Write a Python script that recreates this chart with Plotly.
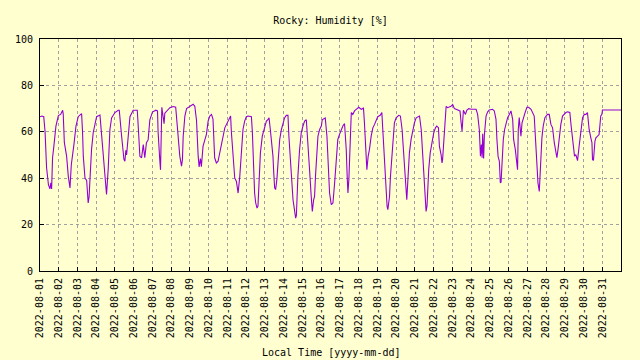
import pandas as pd
import plotly.graph_objects as go

start_date = "2022-08-01 00:00"

# elapsed days since 2022-08-01 00:00 (local time)
elapsed_days = [
    0.00, 0.10, 0.20, 0.27, 0.35, 0.45, 0.53, 0.58, 0.62, 0.67, 0.74, 0.85, 0.98,
    1.10, 1.21, 1.24, 1.30, 1.42, 1.51, 1.60, 1.67, 1.74, 1.81, 1.92,
    2.04, 2.17, 2.22, 2.27, 2.31, 2.40, 2.49, 2.57, 2.62, 2.66, 2.75, 2.84, 2.93,
    3.02, 3.20, 3.29, 3.37, 3.46, 3.52, 3.55, 3.64, 3.73, 3.82,
    4.00, 4.17, 4.23, 4.35, 4.44, 4.48, 4.53, 4.58, 4.62, 4.71, 4.80, 4.97,
    5.19, 5.24, 5.33, 5.42, 5.51, 5.59, 5.68, 5.77, 5.86,
    6.00, 6.18, 6.27, 6.30, 6.39, 6.43, 6.50, 6.62, 6.66, 6.75, 6.93,
    7.10, 7.24, 7.28, 7.37, 7.46, 7.55, 7.60, 7.64, 7.73, 7.82, 7.99,
    8.17, 8.26, 8.35, 8.44, 8.49, 8.56, 8.61, 8.70, 8.79, 8.88, 8.97,
    9.06, 9.15, 9.23, 9.32, 9.41, 9.50, 9.59, 9.68, 9.77, 9.86, 9.95,
    10.03, 10.12, 10.17, 10.21, 10.30, 10.39, 10.48, 10.57, 10.66, 10.75, 10.83, 10.92,
    11.01, 11.10, 11.28, 11.33, 11.40, 11.45, 11.51, 11.58, 11.63, 11.69, 11.76, 11.86, 11.99,
    12.08, 12.16, 12.22, 12.29, 12.34, 12.43, 12.47, 12.52, 12.57, 12.64, 12.70, 12.79, 12.88, 12.96,
    13.05, 13.14, 13.23, 13.28, 13.41, 13.50, 13.59, 13.64, 13.68, 13.71, 13.76, 13.85, 13.94,
    14.03, 14.12, 14.21, 14.29, 14.38, 14.47, 14.53, 14.60, 14.65, 14.70, 14.78, 14.83, 14.92,
    15.01, 15.06, 15.22, 15.31, 15.36, 15.45, 15.54, 15.63, 15.72, 15.81, 15.89, 15.98,
    16.07, 16.16, 16.25, 16.34, 16.39, 16.43, 16.48, 16.52, 16.55, 16.61, 16.69, 16.78, 16.87,
    17.01, 17.14, 17.26, 17.31, 17.37, 17.40, 17.44, 17.51, 17.58, 17.67, 17.76, 17.85, 17.94,
    18.02, 18.15, 18.24, 18.29, 18.38, 18.47, 18.52, 18.56, 18.65, 18.70, 18.79, 18.86, 18.91,
    19.00, 19.14, 19.23, 19.32, 19.39, 19.45, 19.50, 19.57, 19.62, 19.71, 19.80, 19.89, 19.98,
    20.07, 20.16, 20.25, 20.34, 20.42, 20.48, 20.55, 20.60, 20.65, 20.69, 20.74, 20.82, 20.92,
    21.01, 21.10, 21.17, 21.26, 21.31, 21.40, 21.45, 21.48, 21.54, 21.59, 21.67, 21.75, 21.84, 21.93,
    22.02, 22.11, 22.20, 22.29, 22.41, 22.47, 22.52, 22.59, 22.70, 22.77, 22.87,
    23.00, 23.27, 23.35, 23.44, 23.50, 23.55, 23.59, 23.62, 23.67, 23.71, 23.80, 23.88, 23.97,
    24.15, 24.24, 24.33, 24.38, 24.44, 24.51, 24.56, 24.60, 24.65, 24.72, 24.79, 24.86, 24.95,
    25.04, 25.13, 25.22, 25.27, 25.36, 25.45, 25.48, 25.52, 25.57, 25.61, 25.66, 25.72, 25.79, 25.89, 25.98,
    26.07, 26.20, 26.37, 26.43, 26.46, 26.52, 26.57, 26.64, 26.71, 26.78, 26.85, 26.94,
    27.08, 27.17, 27.26, 27.35, 27.44, 27.53, 27.58, 27.65, 27.70, 27.79, 27.88, 27.97,
    28.06, 28.15, 28.27, 28.34, 28.41, 28.47, 28.52, 28.59, 28.68, 28.77, 28.86, 28.95,
    29.04, 29.13, 29.21, 29.30, 29.39, 29.45, 29.48, 29.53, 29.61, 29.66, 29.75, 29.83, 29.92, 29.98,
    30.01, 31.00,
]

humidity = [
    66.5, 66.8, 66.5, 60.0, 44.6, 37.2, 35.4, 38.0, 35.4, 48.8, 53.8, 62.5, 67.0,
    67.5, 69.3, 67.5, 55.3, 49.5, 40.8, 35.8, 45.8, 51.6, 54.5, 62.5,
    66.5, 67.5, 67.8, 60.0, 49.5, 40.1, 39.0, 29.3, 32.0, 38.5, 52.4, 59.7, 64.0,
    66.5, 67.2, 57.3, 50.5, 42.9, 33.6, 33.0, 44.1, 61.0, 66.0,
    68.3, 69.3, 69.3, 58.5, 52.0, 48.0, 47.3, 52.0, 50.0, 60.0, 66.5, 69.3,
    69.3, 62.5, 49.5, 48.8, 54.5, 48.8, 55.3, 56.5, 65.2,
    68.5, 69.3, 69.0, 60.1, 48.0, 43.6, 70.6, 63.5, 68.0, 68.8, 70.4,
    70.9, 70.6, 66.8, 56.7, 49.5, 45.2, 48.0, 58.0, 66.8, 70.0, 71.0,
    71.9, 71.0, 65.0, 49.5, 44.9, 48.5, 45.0, 53.8, 56.0, 58.9, 64.6,
    66.8, 67.5, 65.5, 48.8, 46.6, 47.3, 50.9, 55.3, 58.9, 61.7, 63.2,
    64.5, 66.5, 66.8, 60.0, 49.5, 40.1, 38.6, 33.6, 40.8, 49.5, 61.0, 64.6,
    66.5, 66.8, 66.5, 60.0, 43.6, 33.6, 29.3, 27.1, 28.0, 40.8, 50.9, 58.1, 62.5,
    64.6, 65.2, 66.0, 60.9, 56.7, 49.5, 42.6, 35.8, 35.1, 39.5, 46.6, 56.7, 61.0, 63.9,
    66.0, 67.1, 67.1, 58.1, 40.8, 30.7, 25.7, 22.8, 24.0, 32.2, 40.8, 52.4, 59.6,
    62.5, 64.6, 65.2, 56.5, 44.0, 32.2, 25.7, 30.7, 32.2, 41.0, 49.5, 58.1, 61.0,
    62.5, 65.2, 66.0, 58.1, 46.6, 33.6, 28.6, 29.3, 37.9, 49.5, 56.7, 58.9,
    61.0, 62.5, 63.5, 52.4, 40.8, 33.6, 39.5, 49.5, 59.6, 68.3, 67.5, 69.0, 69.7,
    70.6, 69.7, 70.2, 64.0, 53.8, 46.6, 43.7, 49.5, 52.4, 58.1, 61.7, 63.2, 64.6,
    66.5, 67.1, 68.3, 61.0, 46.6, 35.1, 27.8, 26.4, 32.2, 40.8, 52.4, 59.6, 63.9,
    66.0, 67.1, 66.8, 61.0, 52.4, 45.2, 36.5, 30.7, 37.9, 50.9, 56.7, 61.0, 63.9,
    66.0, 66.5, 66.8, 61.0, 50.9, 40.8, 32.2, 25.7, 28.0, 36.5, 43.7, 50.9, 56.7,
    59.6, 61.7, 62.5, 61.8, 53.8, 50.2, 46.6, 48.0, 55.3, 66.1, 71.0, 70.4, 70.7, 71.0,
    71.8, 70.0, 69.7, 69.3, 69.0, 63.9, 60.3, 69.3, 67.5, 69.3, 70.0,
    69.7, 69.7, 67.5, 61.0, 49.5, 54.5, 48.8, 59.2, 48.5, 58.5, 66.8, 68.5, 69.4,
    69.7, 69.0, 65.4, 56.7, 49.5, 47.3, 38.0, 38.3, 49.5, 56.7, 61.0, 63.2, 66.1,
    67.5, 69.0, 65.4, 56.7, 52.4, 46.6, 43.7, 61.0, 66.1, 62.5, 58.1, 63.9, 66.1, 68.5, 70.6,
    70.6, 69.7, 66.8, 58.1, 53.1, 46.6, 38.0, 34.3, 46.6, 57.4, 62.5, 66.1,
    67.5, 67.5, 63.2, 61.7, 55.3, 50.9, 48.8, 53.1, 58.1, 63.2, 66.8, 67.8,
    68.3, 68.6, 68.3, 62.5, 58.1, 52.4, 49.5, 50.2, 47.6, 54.1, 61.0, 66.1,
    67.5, 67.5, 68.3, 61.0, 57.4, 55.3, 48.0, 47.7, 56.0, 57.4, 58.1, 58.8, 66.8, 67.5,
    69.4, 69.4,
]

tick_dates = [f"2022-08-{d:02d}" for d in range(1, 32)]
y_ticks = [0, 20, 40, 60, 80, 100]

times = pd.Timestamp(start_date) + pd.to_timedelta(elapsed_days, unit="D")

BG = "#ffffd0"
FONT = dict(family="DejaVu Sans Mono", size=10, color="black")

fig = go.Figure()
fig.add_trace(go.Scatter(
    x=times, y=humidity, mode="lines",
    line=dict(color="#9400d3", width=1.1),
    showlegend=False, hoverinfo="skip",
))

axis_common = dict(
    showgrid=True, gridcolor="#a0a0a0", gridwidth=1, griddash="dot",
    showline=True, linecolor="black", linewidth=1, mirror=True,
    ticks="inside", ticklen=4, tickcolor="black", tickwidth=1,
    zeroline=False, tickfont=FONT,
)

fig.update_layout(
    width=640, height=360,
    paper_bgcolor=BG, plot_bgcolor=BG,
    margin=dict(l=40, r=19, t=39, b=89),
    font=FONT,
    title=dict(text="Rocky: Humidity [%]", x=0.5, xref="paper",
               y=1 - 20.5 / 360, yref="container", yanchor="middle",
               xanchor="center", font=FONT),
    xaxis=dict(
        type="date",
        range=["2022-08-01", "2022-09-01"],
        tickvals=tick_dates, ticktext=tick_dates,
        tickangle=-90, ticklabelstandoff=2,
        **axis_common,
    ),
    yaxis=dict(
        range=[0, 100],
        tickvals=y_ticks, ticklabelstandoff=4,
        **axis_common,
    ),
    annotations=[dict(
        text="Local Time [yyyy-mm-dd]", xref="paper", yref="paper",
        x=0.5, y=-(352 - 271) / 232, xanchor="center", yanchor="middle",
        showarrow=False, font=FONT,
    )],
)

fig.write_html(
    "out.html",
    config={"displayModeBar": False, "staticPlot": True},
    post_script="document.body.style.margin='0';document.body.style.background='" + BG + "';",
)
